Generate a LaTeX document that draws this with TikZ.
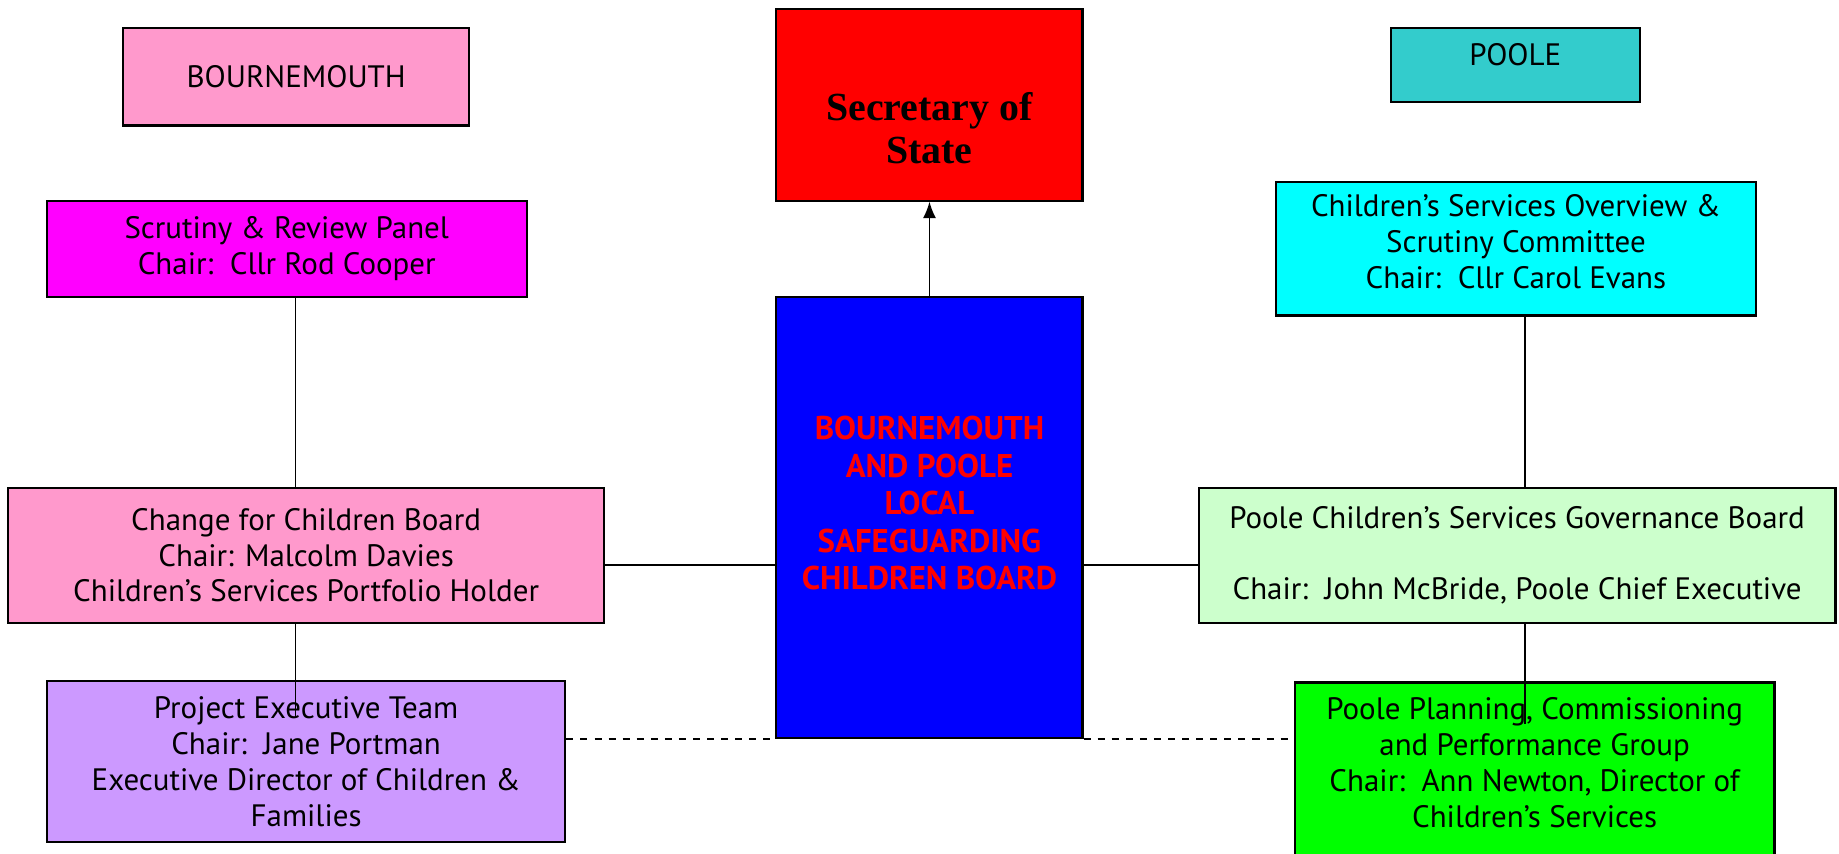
\documentclass[tikz,border=0pt]{standalone}
\usepackage{fontspec}
\setmainfont{PT Sans}
\newfontfamily\sosfont{Liberation Serif}
\usepackage{tikz}
\usetikzlibrary{arrows.meta}

\definecolor{bmthpink}{HTML}{FF99CC}
\definecolor{pooleteal}{HTML}{33CCCC}
\definecolor{scrmagenta}{HTML}{FF00FF}
\definecolor{ovcyan}{HTML}{00FFFF}
\definecolor{govgreen}{HTML}{CCFFCC}
\definecolor{petlilac}{HTML}{CC99FF}

\tikzset{
  orgbox/.style={draw=black, line width=0.9pt, rectangle, align=center,
    font=\fontsize{13.2}{15.25}\selectfont, inner sep=2pt},
  link/.style={line width=0.7pt}
}

\begin{document}
\begin{tikzpicture}[x=0.5pt, y=-0.5pt]
    \useasboundingbox (0,0) rectangle (1568,728);
    \node (bmth) at (252.5,65.5)[orgbox, fill=bmthpink, minimum width=147.5pt, minimum height=41.5pt] {BOURNEMOUTH};
    \node (sos) at (792.5,89.5)[orgbox, fill=red, minimum width=130.5pt, minimum height=81.5pt,
        font=\sosfont\bfseries\fontsize{17}{18.5}\selectfont] {\mbox{}\\[13pt]Secretary of\\State};
    \node (poole) at (1292,55.5)[orgbox, fill=pooleteal, minimum width=106pt, minimum height=31.5pt,
        text depth=9pt] {POOLE};
    \node (scrutiny) at (244.5,212)[orgbox, fill=scrmagenta, minimum width=204.5pt, minimum height=41pt]
        {Scrutiny \& Review Panel\\Chair:~~Cllr Rod Cooper};
    \node (overview) at (1292.5,212)[orgbox, fill=ovcyan, minimum width=204.5pt, minimum height=57pt,
        text depth=6pt]
        {Children's Services Overview \&\\Scrutiny Committee\\Chair:~~Cllr Carol Evans};
    \node (lscb) at (792.5,441)[orgbox, fill=blue, text=red, minimum width=130.5pt, minimum height=188pt,
        font=\bfseries\fontsize{14}{16}\selectfont]
        {BOURNEMOUTH\\AND POOLE\\LOCAL\\SAFEGUARDING\\CHILDREN BOARD\\[-4pt]\mbox{}};
    \node (cfcb) at (261,473.5)[orgbox, fill=bmthpink, minimum width=254pt, minimum height=57.5pt]
        {Change for Children Board\\Chair: Malcolm Davies\\Children's Services Portfolio Holder};
    \node (gov) at (1293.5,473.5)[orgbox, fill=govgreen, minimum width=271.5pt, minimum height=57.5pt]
        {Poole Children's Services Governance Board\\\mbox{}\\Chair:~~John McBride, Poole Chief Executive};
    \node (pet) at (261,649.5)[orgbox, fill=petlilac, minimum width=221pt, minimum height=68.5pt]
        {Project Executive Team\\Chair:~~Jane Portman\\Executive Director of Children \&\\Families};
    \node (ppcpg) at (1308.5,581)[orgbox, fill=green, anchor=north, minimum width=204.5pt,
        inner ysep=6.5pt, text depth=60pt]
        {Poole Planning, Commissioning\\and Performance Group\\Chair:~~Ann Newton, Director of\\Children's Services};

    \coordinate (lspine) at (252,482);
    \coordinate (rspine) at (1300,482);
    \coordinate (petin) at (252,611);
    \coordinate (ppin) at (1300,617);

    \draw[link, -{Latex[length=7pt, width=5.5pt]}] (lscb.north) -- (sos.south);
    \draw[link] (scrutiny.south -| lspine) -- (cfcb.north -| lspine);
    \draw[link] (cfcb.south -| lspine) -- (petin);
    \draw[link] (overview.south -| rspine) -- (gov.north -| rspine);
    \draw[link] (gov.south -| rspine) -- (ppin);
    \draw[link] (cfcb.east |- lspine) -- (lscb.west |- lspine);
    \draw[link] (lscb.east |- rspine) -- (gov.west |- rspine);
    \draw[link, dashed] (pet.east |- lscb.south) -- (lscb.south west);
    \draw[link, dashed] (lscb.south east) -- (ppcpg.west |- lscb.south);
\end{tikzpicture}
\end{document}
